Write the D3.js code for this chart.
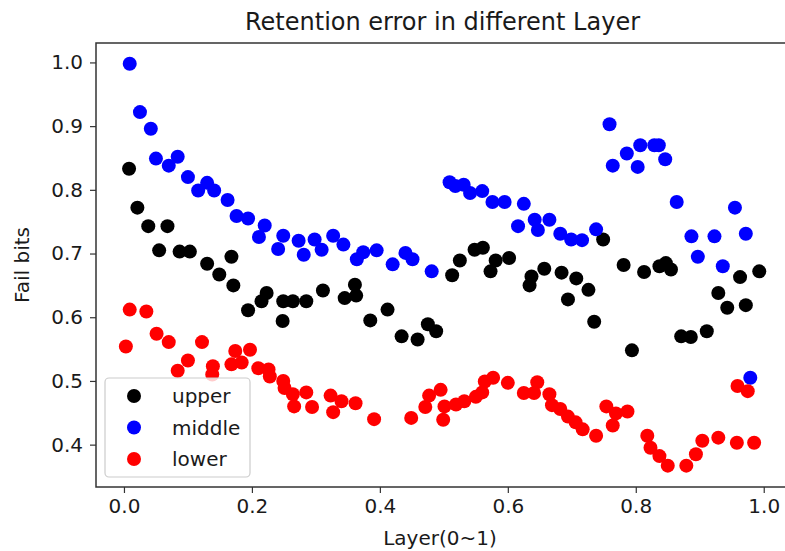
<!DOCTYPE html>
<html>
<head>
<meta charset="utf-8">
<script src="https://cdn.jsdelivr.net/npm/d3@7"></script>
<style>
  html, body { margin: 0; padding: 0; background: #fff; }
  svg { display: block; font-family: "DejaVu Sans", sans-serif; }
</style>
</head>
<body>
<svg id="chart" width="785" height="551"></svg>
<script>
// Retention error per layer position, three word-line groups
const upperX = [0.008,0.021,0.038,0.055,0.068,0.087,0.103,0.130,0.149,0.168,0.171,0.194,0.215,0.223,0.248,0.249,0.264,0.285,0.311,0.345,0.361,0.363,0.385,0.412,0.434,0.459,0.475,0.488,0.513,0.525,0.548,0.561,0.573,0.581,0.602,0.634,0.637,0.657,0.684,0.694,0.707,0.726,0.735,0.749,0.781,0.794,0.813,0.837,0.847,0.855,0.871,0.886,0.911,0.929,0.943,0.963,0.972,0.993];
const upperY = [0.833,0.772,0.743,0.705,0.743,0.703,0.703,0.684,0.667,0.695,0.650,0.611,0.625,0.638,0.594,0.625,0.625,0.625,0.642,0.630,0.651,0.634,0.595,0.612,0.570,0.565,0.589,0.578,0.666,0.689,0.706,0.709,0.672,0.689,0.693,0.650,0.664,0.676,0.670,0.628,0.661,0.643,0.593,0.722,0.682,0.548,0.671,0.680,0.685,0.675,0.570,0.569,0.578,0.638,0.615,0.663,0.619,0.672];

const middleX = [0.009,0.025,0.042,0.050,0.070,0.084,0.100,0.116,0.130,0.141,0.162,0.176,0.194,0.211,0.220,0.241,0.249,0.273,0.281,0.298,0.309,0.327,0.343,0.364,0.374,0.395,0.420,0.440,0.451,0.481,0.509,0.518,0.531,0.541,0.560,0.576,0.595,0.616,0.625,0.642,0.647,0.665,0.682,0.699,0.716,0.738,0.759,0.764,0.786,0.803,0.807,0.829,0.836,0.846,0.864,0.887,0.897,0.923,0.936,0.955,0.972,0.979];
const middleY = [0.998,0.922,0.896,0.849,0.838,0.852,0.820,0.799,0.811,0.799,0.784,0.759,0.755,0.726,0.744,0.707,0.728,0.720,0.698,0.722,0.706,0.728,0.714,0.691,0.702,0.705,0.683,0.701,0.691,0.672,0.812,0.806,0.808,0.795,0.798,0.781,0.781,0.743,0.778,0.753,0.737,0.753,0.731,0.722,0.721,0.738,0.903,0.838,0.857,0.836,0.870,0.870,0.870,0.848,0.781,0.727,0.695,0.727,0.680,0.772,0.731,0.505];

const lowerX = [0.003,0.009,0.035,0.051,0.070,0.084,0.100,0.122,0.138,0.139,0.168,0.174,0.184,0.197,0.210,0.226,0.228,0.249,0.251,0.264,0.266,0.285,0.294,0.323,0.327,0.340,0.362,0.391,0.449,0.471,0.477,0.495,0.499,0.501,0.519,0.532,0.550,0.560,0.564,0.577,0.600,0.625,0.641,0.646,0.665,0.669,0.682,0.694,0.706,0.717,0.738,0.754,0.764,0.769,0.787,0.818,0.823,0.837,0.850,0.879,0.894,0.904,0.929,0.958,0.959,0.975,0.985];
const lowerY = [0.554,0.612,0.609,0.574,0.561,0.516,0.532,0.561,0.510,0.523,0.526,0.547,0.529,0.549,0.520,0.518,0.507,0.500,0.489,0.479,0.460,0.482,0.459,0.477,0.451,0.468,0.465,0.440,0.442,0.459,0.477,0.486,0.439,0.460,0.463,0.468,0.475,0.482,0.499,0.505,0.497,0.481,0.481,0.498,0.479,0.462,0.456,0.444,0.435,0.424,0.414,0.460,0.430,0.449,0.452,0.414,0.395,0.382,0.367,0.367,0.385,0.406,0.411,0.403,0.492,0.484,0.403];

const seriesNames = ["upper", "middle", "lower"];
const seriesColors = ["#000000", "#0000ff", "#ff0000"];
const xTicks = [0.0, 0.2, 0.4, 0.6, 0.8, 1.0];
const yTicks = [0.4, 0.5, 0.6, 0.7, 0.8, 0.9, 1.0];

const series = [
  { name: seriesNames[0], color: seriesColors[0], xs: upperX, ys: upperY },
  { name: seriesNames[1], color: seriesColors[1], xs: middleX, ys: middleY },
  { name: seriesNames[2], color: seriesColors[2], xs: lowerX, ys: lowerY }
];

const svg = d3.select("#chart");
const plot = { left: 96, right: 789, top: 43, bottom: 487 };

const x = d3.scaleLinear().domain([-0.0437, 1.0395]).range([plot.left, plot.right]);
const y = d3.scaleLinear().domain([0.3335, 1.0305]).range([plot.bottom, plot.top]);

const textColor = "#1a1a1a";

// Axes
const xAxis = svg.append("g")
  .attr("transform", `translate(0,${plot.bottom})`)
  .call(d3.axisBottom(x).tickValues(xTicks).tickFormat(d3.format(".1f")).tickSize(6).tickPadding(6).tickSizeOuter(0));
const yAxis = svg.append("g")
  .attr("transform", `translate(${plot.left},0)`)
  .call(d3.axisLeft(y).tickValues(yTicks).tickFormat(d3.format(".1f")).tickSize(6).tickPadding(7).tickSizeOuter(0));

[xAxis, yAxis].forEach(g => {
  g.select(".domain").remove();
  g.selectAll(".tick line").attr("stroke", "#333").attr("stroke-width", 1.2);
  g.selectAll(".tick text")
    .attr("fill", textColor)
    .style("font-family", "'DejaVu Sans', sans-serif")
    .style("font-size", "20px");
});

// Scatter markers
series.forEach(s => {
  svg.append("g")
    .selectAll("circle")
    .data(s.xs.map((v, i) => [v, s.ys[i]]))
    .join("circle")
    .attr("cx", d => x(d[0]))
    .attr("cy", d => y(d[1]))
    .attr("r", 7)
    .attr("fill", s.color);
});

// Frame
svg.append("rect")
  .attr("x", plot.left).attr("y", plot.top)
  .attr("width", plot.right - plot.left).attr("height", plot.bottom - plot.top)
  .attr("fill", "none").attr("stroke", "#333").attr("stroke-width", 1.5);

// Title and axis labels
svg.append("text")
  .attr("x", (plot.left + plot.right) / 2).attr("y", 30)
  .attr("text-anchor", "middle")
  .attr("fill", textColor)
  .style("font-size", "24px")
  .text("Retention error in different Layer");

svg.append("text")
  .attr("x", 440).attr("y", 545)
  .attr("text-anchor", "middle")
  .attr("fill", textColor)
  .style("font-size", "20px")
  .text("Layer(0~1)");

svg.append("text")
  .attr("transform", `translate(29,${(plot.top + plot.bottom) / 2}) rotate(-90)`)
  .attr("text-anchor", "middle")
  .attr("fill", textColor)
  .style("font-size", "20px")
  .text("Fail bits");

// Legend
const legend = svg.append("g");
legend.append("rect")
  .attr("x", 105).attr("y", 378).attr("width", 145).attr("height", 99)
  .attr("rx", 4)
  .attr("fill", "#fff").attr("fill-opacity", 0.8)
  .attr("stroke", "#cccccc").attr("stroke-width", 1.2);

const legendRows = legend.selectAll("g.row")
  .data(series)
  .join("g")
  .attr("class", "row")
  .attr("transform", (d, i) => `translate(0,${396 + i * 31.5})`);
legendRows.append("circle").attr("cx", 134).attr("cy", 0).attr("r", 7).attr("fill", d => d.color);
legendRows.append("text")
  .attr("x", 172).attr("y", 7)
  .attr("fill", textColor)
  .style("font-size", "20px")
  .text(d => d.name);
</script>
</body>
</html>
